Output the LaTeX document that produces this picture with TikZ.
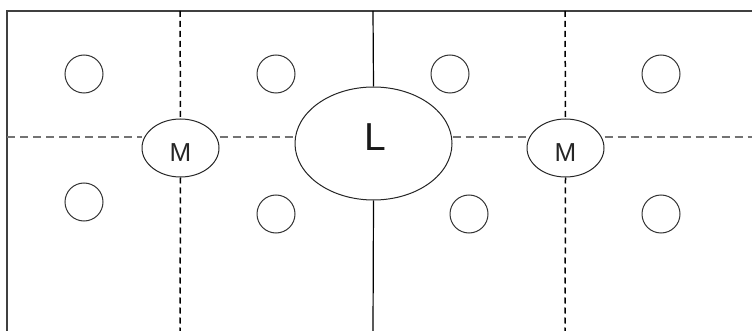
\documentclass[tikz,border=0pt]{standalone}
\usepackage{fontspec}
\setmainfont{Liberation Sans}
\usetikzlibrary{shapes.geometric}
\begin{document}
\begin{tikzpicture}[x=1pt,y=-1pt,
  border/.style={line width=1.8pt,draw=black!75},
  hdash/.style={line width=1.8pt,draw=black!55,dash pattern=on 8pt off 5pt},
  vdash/.style={line width=1.5pt,draw=black,dash pattern=on 6pt off 4pt},
  solidv/.style={line width=1.2pt,draw=black},
  dot/.style={circle,draw=black!80,line width=1pt,minimum size=38pt,inner sep=0pt},
  mnode/.style={ellipse,draw=black!85,line width=1pt,minimum width=77pt,minimum height=58pt,inner sep=0pt},
  lnode/.style={ellipse,draw=black!85,line width=1pt,minimum width=157pt,minimum height=113pt,inner sep=0pt},
  mtext/.style={inner sep=0pt,text=black!85,font=\fontsize{26}{26}\selectfont},
  ltext/.style={inner sep=0pt,text=black!90,font=\fontsize{39}{39}\selectfont}]
\useasboundingbox (0,0) rectangle (752,331);
\fill[white] (0,0) rectangle (752,331);
% border
\coordinate (tl) at (7,11);
\coordinate (bl) at (7,331);
\coordinate (tr) at (752,11);
\draw[border] (bl) -- (tl) -- (tr);
% ellipses
\node[lnode] (L) at (373.5,143.5) {};
\node[ltext] (Lt) at (375,137) {L};
\node[mnode] (M1) at (180.5,148) {};
\node[mtext] (M1t) at (180.5,153) {M};
\node[mnode] (M2) at (565.5,148) {};
\node[mtext] (M2t) at (565.5,153) {M};
% circles
\node[dot] (c1) at (84,74) {};
\node[dot] (c2) at (84,202) {};
\node[dot] (c3) at (276,74) {};
\node[dot] (c4) at (276,214) {};
\node[dot] (c5) at (450,74) {};
\node[dot] (c6) at (469,214) {};
\node[dot] (c7) at (661,74) {};
\node[dot] (c8) at (661,214) {};
% line end coordinates
\coordinate (hl) at (7,137);
\coordinate (hr) at (752,137);
\coordinate (v1t) at (180,11);
\coordinate (v1b) at (180,331);
\coordinate (v2t) at (565,11);
\coordinate (v2b) at (565,331);
\coordinate (v0t) at (373,11);
\coordinate (v0b) at (373,331);
% horizontal dashed
\draw[hdash] (hl) -- (M1.west |- hl);
\draw[hdash] (M1.east |- hl) -- (L.west |- hl);
\draw[hdash] (L.east |- hl) -- (M2.west |- hl);
\draw[hdash] (M2.east |- hl) -- (hr);
% vertical dashed
\draw[vdash] (v1t) -- (M1.north);
\draw[vdash] (M1.south) -- (v1b);
\draw[vdash] (v2t) -- (M2.north);
\draw[vdash] (M2.south) -- (v2b);
% solid centre
\draw[solidv] (v0t) -- (L.north);
\draw[solidv] (L.south) -- (v0b);
\end{tikzpicture}
\end{document}
